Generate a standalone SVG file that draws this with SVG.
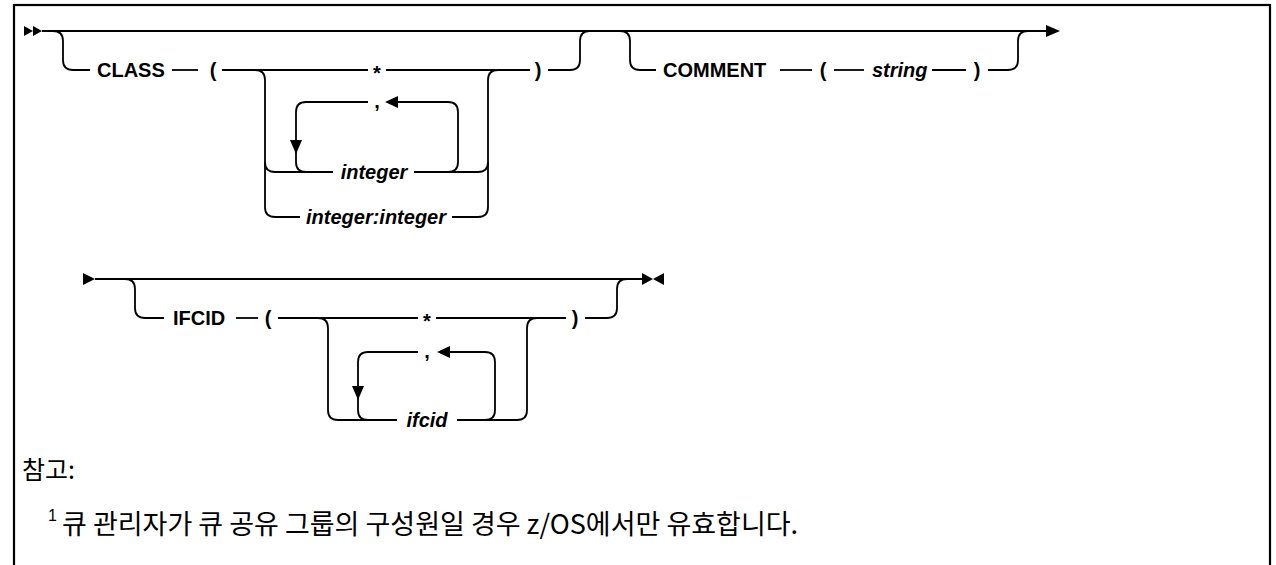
<svg xmlns="http://www.w3.org/2000/svg" width="1276" height="565" viewBox="0 0 1276 565">
<style>
.ln{fill:none;stroke:#000;stroke-width:1.8}
.ah{fill:#000;stroke:none}
.kw{font-family:"Liberation Sans",Arial,sans-serif;font-weight:bold;font-size:20px;fill:#000}
.var{font-family:"Liberation Sans",Arial,sans-serif;font-weight:bold;font-style:italic;font-size:20px;fill:#000}
.mid{text-anchor:middle}
.ko{font-family:"Noto Sans CJK KR","Noto Sans",sans-serif;font-size:25px;fill:#000}
.fn{font-family:"Noto Sans CJK KR","Noto Sans",sans-serif;font-size:27px;fill:#000}
.sup{font-family:"Liberation Sans",Arial,sans-serif;font-size:16px;fill:#000}
</style>
<rect x="14" y="5" width="1256" height="620" fill="none" stroke="#000" stroke-width="2.2"/>
<g id="connectors">
  <polygon class="ah" points="24,26 33,31 24,36"/>
  <polygon class="ah" points="33,26 42,31 33,36"/>
  <path class="ln" d="M42,31 H1047"/>
  <polygon class="ah" points="1046,25 1060,31 1046,37"/>
  <path class="ln" d="M53,31 Q63,31 63,41 V60 Q63,70 73,70 H90"/>
  <path class="ln" d="M172,70 H198"/>
  <path class="ln" d="M222,70 H368"/>
  <path class="ln" d="M386,70 H530"/>
  <path class="ln" d="M255,70 Q265,70 265,80 V207 Q265,217 275,217 H300"/>
  <path class="ln" d="M265,162 Q265,172 275,172 H333"/>
  <path class="ln" d="M306,172 Q296,172 296,162 V112 Q296,102 306,102 H368"/>
  <polygon class="ah" points="290,140 302,140 296,154"/>
  <polygon class="ah" points="385,102 398,96 398,108"/>
  <path class="ln" d="M398,102 H448 Q458,102 458,112 V162 Q458,172 448,172"/>
  <path class="ln" d="M414,172 H478 Q488,172 488,162"/>
  <path class="ln" d="M452,217 H478 Q488,217 488,207 V80 Q488,70 498,70"/>
  <path class="ln" d="M548,70 H570 Q580,70 580,60 V41 Q580,31 590,31"/>
  <path class="ln" d="M620,31 Q630,31 630,41 V60 Q630,70 640,70 H656"/>
  <path class="ln" d="M780,70 H812"/>
  <path class="ln" d="M834,70 H864"/>
  <path class="ln" d="M932,70 H966"/>
  <path class="ln" d="M988,70 H1008 Q1018,70 1018,60 V41 Q1018,31 1028,31"/>
  <polygon class="ah" points="83,273 95,279 83,285"/>
  <path class="ln" d="M95,279 H642"/>
  <polygon class="ah" points="642,273 653,279 642,285"/>
  <polygon class="ah" points="664,273 653,279 664,285"/>
  <path class="ln" d="M125,279 Q135,279 135,289 V308 Q135,318 145,318 H164"/>
  <path class="ln" d="M236,318 H258"/>
  <path class="ln" d="M278,318 H418"/>
  <path class="ln" d="M436,318 H566"/>
  <path class="ln" d="M585,318 H607 Q617,318 617,308 V289 Q617,279 627,279"/>
  <path class="ln" d="M318,318 Q328,318 328,328 V410 Q328,420 338,420 H397"/>
  <path class="ln" d="M368,420 Q358,420 358,410 V362 Q358,352 368,352 H418"/>
  <polygon class="ah" points="352,386 364,386 358,400"/>
  <polygon class="ah" points="437,352 450,346 450,358"/>
  <path class="ln" d="M450,352 H485 Q495,352 495,362 V410 Q495,420 485,420 H457"/>
  <path class="ln" d="M457,420 H517 Q527,420 527,410 V328 Q527,318 537,318"/>
</g>
<g id="class-kw"><text class="kw" x="97" y="77">CLASS</text></g>
<g id="class-open"><text class="kw mid" x="213" y="77">(</text></g>
<g id="class-star"><text class="kw mid" x="377" y="80">*</text></g>
<g id="class-comma"><text class="kw mid" x="377" y="108">,</text></g>
<g id="class-integer"><text class="var mid" x="374" y="179">integer</text></g>
<g id="class-range"><text class="var mid" x="376" y="224">integer:integer</text></g>
<g id="class-close"><text class="kw mid" x="538" y="77">)</text></g>
<g id="comment-kw"><text class="kw" x="663" y="77">COMMENT</text></g>
<g id="comment-open"><text class="kw mid" x="823" y="77">(</text></g>
<g id="comment-string"><text class="var" x="872" y="77">string</text></g>
<g id="comment-close"><text class="kw mid" x="977" y="77">)</text></g>
<g id="ifcid-kw"><text class="kw" x="173" y="325">IFCID</text></g>
<g id="ifcid-open"><text class="kw mid" x="268" y="325">(</text></g>
<g id="ifcid-star"><text class="kw mid" x="427" y="328">*</text></g>
<g id="ifcid-comma"><text class="kw mid" x="427" y="358">,</text></g>
<g id="ifcid-var"><text class="var mid" x="427" y="427">ifcid</text></g>
<g id="ifcid-close"><text class="kw mid" x="575" y="325">)</text></g>
<g id="notes">
  <text class="ko" x="22" y="479">참고:</text>
  <text class="sup" x="48" y="521">1</text>
  <text class="fn" x="62" y="534">큐 관리자가 큐 공유 그룹의 구성원일 경우 z/OS에서만 유효합니다.</text>
</g>
</svg>
